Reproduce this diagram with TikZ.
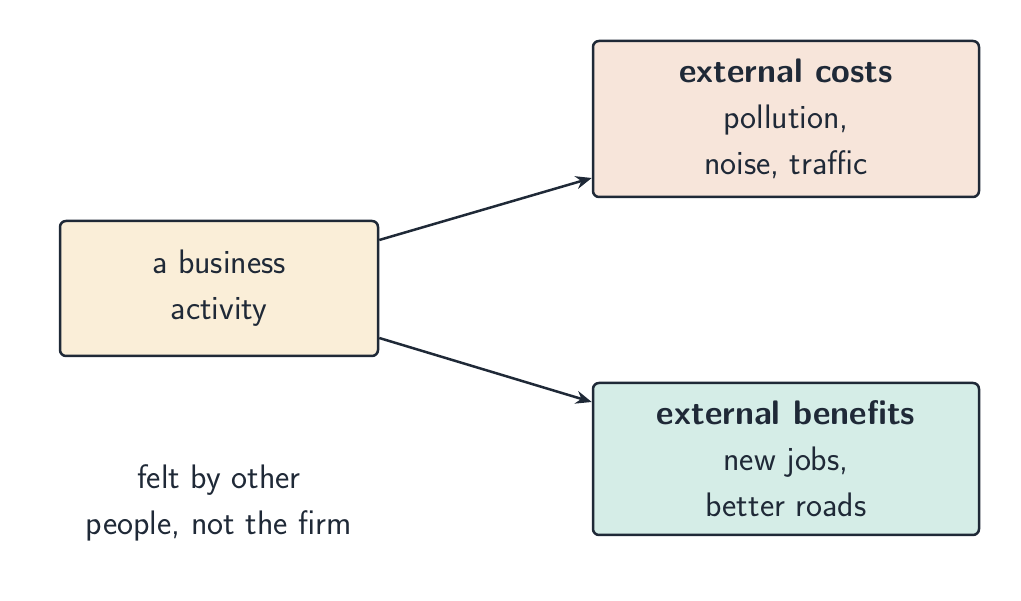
\documentclass[tikz,border=0pt]{standalone}
\usetikzlibrary{arrows.meta}
\definecolor{ink}{HTML}{1F2937}
\definecolor{bizfill}{HTML}{FAEED8}
\definecolor{costfill}{HTML}{F7E5DA}
\definecolor{benfill}{HTML}{D5EDE7}
\begin{document}
\begin{tikzpicture}[x=1pt,y=1pt,
  every node/.style={font=\sffamily\fontsize{34}{46}\selectfont, text=ink},
  box/.style={draw=ink, line width=2.5pt, rounded corners=6pt, align=center, inner sep=0pt},
  arr/.style={draw=ink, line width=2.5pt, -{Stealth[length=16pt,width=13pt]}}]
\useasboundingbox (0,0) rectangle (1021,601);
\node[box, fill=bizfill, minimum width=318, minimum height=135] (biz) at (219,312.5) {a business\\activity};
\node[box, fill=costfill, minimum width=386, minimum height=156] (cost) at (786,482) {\textbf{external costs}\\pollution,\\noise, traffic};
\node[box, fill=benfill, minimum width=386, minimum height=152] (ben) at (786,142) {\textbf{external benefits}\\new jobs,\\better roads};
\node[align=center] (note) at (219,98) {felt by other\\people, not the firm};
\draw[arr] ([yshift=48.5]biz.east) -- ([yshift=-59]cost.west);
\draw[arr] ([yshift=-49.5]biz.east) -- ([yshift=57]ben.west);
\end{tikzpicture}
\end{document}
